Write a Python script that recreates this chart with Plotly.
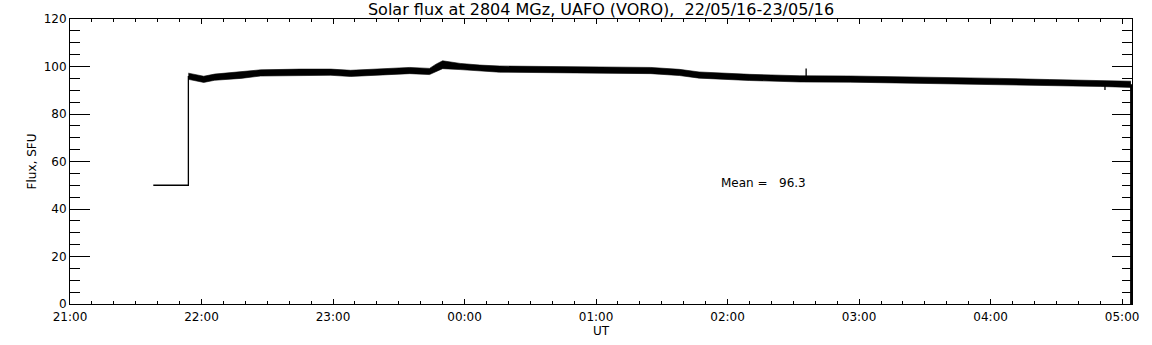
import plotly.graph_objects as go

# ---- data ----
step_times = ["2016-05-22 21:38:00", "2016-05-22 21:54:00", "2016-05-22 21:54:00"]
step_flux = [50, 50, 96]

band_times = [
    "2016-05-22 21:54", "2016-05-22 22:01", "2016-05-22 22:06", "2016-05-22 22:18",
    "2016-05-22 22:27", "2016-05-22 22:45", "2016-05-22 22:59", "2016-05-22 23:08",
    "2016-05-22 23:21", "2016-05-22 23:35", "2016-05-22 23:44", "2016-05-22 23:47",
    "2016-05-22 23:50", "2016-05-22 23:58", "2016-05-23 00:07", "2016-05-23 00:16",
    "2016-05-23 00:39", "2016-05-23 01:02", "2016-05-23 01:25", "2016-05-23 01:38",
    "2016-05-23 01:47", "2016-05-23 02:10", "2016-05-23 02:33", "2016-05-23 02:56",
    "2016-05-23 03:19", "2016-05-23 03:41", "2016-05-23 04:04", "2016-05-23 04:27",
    "2016-05-23 04:50", "2016-05-23 05:04",
]
flux_upper = [97.2, 95.9, 96.8, 97.8, 98.6, 98.9, 98.9, 98.4, 99.1, 99.6, 99.2, 101.0,
              102.4, 101.3, 100.6, 100.2, 100.0, 99.8, 99.6, 98.8, 97.7, 96.7, 96.1,
              96.0, 95.7, 95.3, 95.0, 94.5, 94.2, 93.8]
flux_lower = [94.6, 93.3, 94.2, 95.0, 96.0, 96.3, 96.3, 95.8, 96.5, 97.0, 96.6, 98.0,
              99.1, 98.7, 98.0, 97.6, 97.4, 97.2, 97.0, 96.2, 95.1, 94.1, 93.5, 93.4,
              93.1, 92.7, 92.4, 91.9, 91.6, 91.2]

spike_times = ["2016-05-23 02:35:50", "2016-05-23 02:35:50", None,
               "2016-05-23 04:52:10", "2016-05-23 04:52:10"]
spike_flux = [95.5, 99.2, None, 92.0, 90.1]

end_times = ["2016-05-23 05:04:05", "2016-05-23 05:04:05"]
end_flux = [92.5, 0]

mean_value = 96.3
title_text = "Solar flux at 2804 MGz, UAFO (VORO),  22/05/16-23/05/16"

FONT = "DejaVu Sans"

fig = go.Figure()
fig.add_trace(go.Scatter(x=step_times, y=step_flux, mode="lines",
                         line=dict(color="black", width=1.3), showlegend=False))
fig.add_trace(go.Scatter(x=band_times, y=flux_lower, mode="lines",
                         line=dict(color="black", width=0.6), showlegend=False))
fig.add_trace(go.Scatter(x=band_times, y=flux_upper, mode="lines", fill="tonexty",
                         fillcolor="black", line=dict(color="black", width=0.6),
                         showlegend=False))
fig.add_trace(go.Scatter(x=spike_times, y=spike_flux, mode="lines",
                         line=dict(color="black", width=1.3), showlegend=False))
fig.add_trace(go.Scatter(x=end_times, y=end_flux, mode="lines",
                         line=dict(color="black", width=2), showlegend=False))

fig.add_annotation(x="2016-05-23 01:56:06", y=51.1, xref="x", yref="y",
                   text="Mean =\u00a0\u00a0\u00a0" + f"{mean_value:.1f}",
                   showarrow=False, xanchor="left", yanchor="middle",
                   font=dict(family=FONT, size=12, color="black"))

fig.update_layout(
    width=1152, height=345,
    margin=dict(l=70, r=20, t=19, b=41),
    paper_bgcolor="white", plot_bgcolor="white",
    title=dict(text=title_text, x=0.5, xref="paper", xanchor="center",
               y=1 - 9 / 345, yref="container", yanchor="middle",
               font=dict(family=FONT, size=16, color="black")),
    font=dict(family=FONT, size=12, color="black"),
    xaxis=dict(
        range=["2016-05-22 21:00:00", "2016-05-23 05:04:30"],
        type="date", tickformat="%H:%M", dtick=3600000,
        tick0="2016-05-22 21:00:00",
        ticks="inside", ticklen=5, tickcolor="black", tickwidth=1,
        minor=dict(dtick=600000, ticks="inside", ticklen=3, tickcolor="black"),
        showline=True, linecolor="black", linewidth=1, mirror="ticks",
        showgrid=False, zeroline=False, ticklabelstandoff=2,
        tickfont=dict(family=FONT, size=12, color="black"),
        title=dict(text="UT", standoff=0, font=dict(family=FONT, size=12, color="black")),
    ),
    yaxis=dict(
        range=[0, 120], dtick=20, tick0=0,
        ticks="inside", ticklen=20, tickcolor="black", tickwidth=1,
        minor=dict(dtick=5, ticks="inside", ticklen=10, tickcolor="black"),
        showline=True, linecolor="black", linewidth=1, mirror="ticks",
        showgrid=False, zeroline=False,
        tickfont=dict(family=FONT, size=12, color="black"),
        title=dict(text="Flux, SFU", standoff=4, font=dict(family=FONT, size=12, color="black")),
    ),
)

# remove the browser's default page margin so the figure sits at the window's corner
fig.write_html("out.html", config={"displayModeBar": False},
               post_script="document.body.style.margin='0';")
